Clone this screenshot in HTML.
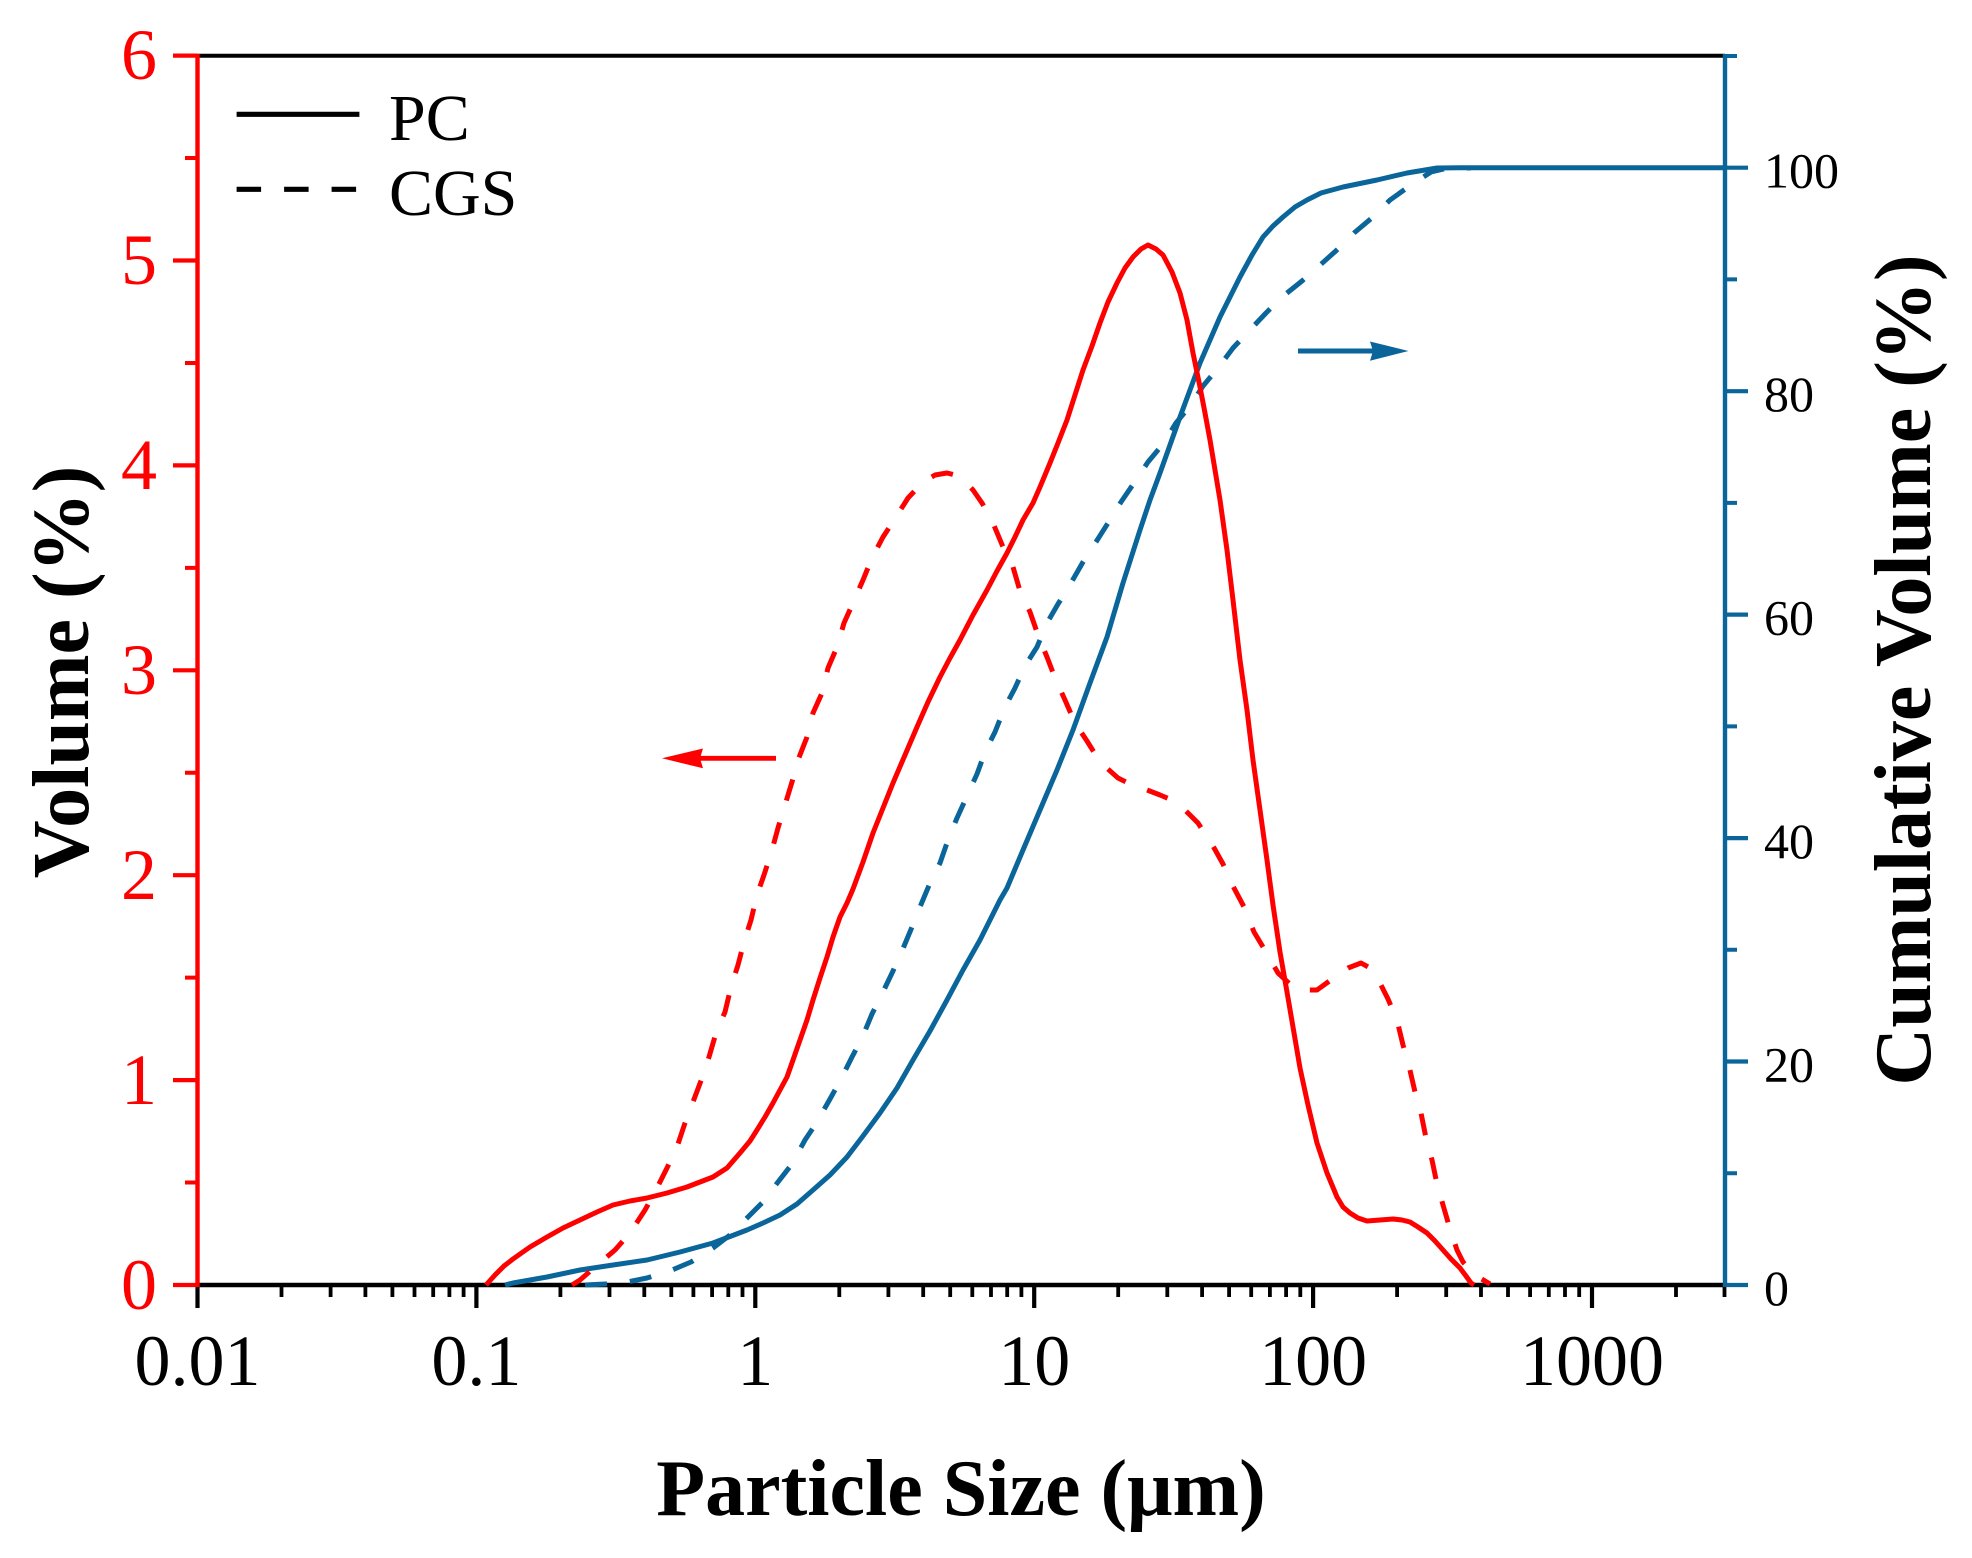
<!DOCTYPE html>
<html>
<head>
<meta charset="utf-8">
<style>
  html,body{margin:0;padding:0;background:#fff;}
  svg{display:block;}
  text{font-family:"Liberation Serif","Times New Roman",serif;}
</style>
</head>
<body>
<svg width="1972" height="1558" viewBox="0 0 1972 1558" xmlns="http://www.w3.org/2000/svg">
  <rect x="0" y="0" width="1972" height="1558" fill="#fff"/>

  <!-- Top axis -->
  <line x1="197.5" y1="55.7" x2="1725" y2="55.7" stroke="#000" stroke-width="4"/>
  <!-- Bottom axis -->
  <line x1="197.5" y1="1285" x2="1725" y2="1285" stroke="#000" stroke-width="4.6"/>

  <!-- Bottom major ticks -->
  <path d="M197.5 1285V1308 M476.4 1285V1308 M755.3 1285V1308 M1034.2 1285V1308 M1313.1 1285V1308 M1592 1285V1308" stroke="#000" stroke-width="4.2" fill="none"/>
  <!-- Bottom minor ticks -->
  <path d="M281.5 1285V1297 M330.6 1285V1297 M365.4 1285V1297 M392.4 1285V1297 M414.5 1285V1297 M433.2 1285V1297 M449.4 1285V1297 M463.6 1285V1297
           M560.4 1285V1297 M609.5 1285V1297 M644.3 1285V1297 M671.3 1285V1297 M693.4 1285V1297 M712.1 1285V1297 M728.3 1285V1297 M742.5 1285V1297
           M839.3 1285V1297 M888.4 1285V1297 M923.2 1285V1297 M950.2 1285V1297 M972.3 1285V1297 M991 1285V1297 M1007.2 1285V1297 M1021.4 1285V1297
           M1118.2 1285V1297 M1167.3 1285V1297 M1202.1 1285V1297 M1229.1 1285V1297 M1251.2 1285V1297 M1269.9 1285V1297 M1286.1 1285V1297 M1300.3 1285V1297
           M1397.1 1285V1297 M1446.2 1285V1297 M1481 1285V1297 M1508 1285V1297 M1530.1 1285V1297 M1548.8 1285V1297 M1565 1285V1297 M1579.2 1285V1297
           M1676 1285V1297 M1724.5 1285V1297" stroke="#000" stroke-width="3.8" fill="none"/>

  <!-- Left axis (red) -->
  <line x1="197.5" y1="54" x2="197.5" y2="1287" stroke="#ff0000" stroke-width="4.4"/>
  <path d="M173 1285H197.5 M173 1080.1H197.5 M173 875.2H197.5 M173 670.3H197.5 M173 465.4H197.5 M173 260.5H197.5 M173 55.6H197.5" stroke="#ff0000" stroke-width="4.2" fill="none"/>
  <path d="M185 1182.55H197.5 M185 977.65H197.5 M185 772.75H197.5 M185 567.85H197.5 M185 362.95H197.5 M185 158.05H197.5" stroke="#ff0000" stroke-width="4" fill="none"/>

  <!-- Right axis (blue) -->
  <line x1="1725" y1="54" x2="1725" y2="1287" stroke="#0a659a" stroke-width="4.4"/>
  <path d="M1725 1285H1748 M1725 1061.5H1748 M1725 838.1H1748 M1725 614.6H1748 M1725 391.2H1748 M1725 167.7H1748" stroke="#0a659a" stroke-width="4.2" fill="none"/>
  <path d="M1725 1173.3H1737 M1725 949.8H1737 M1725 726.4H1737 M1725 502.9H1737 M1725 279.4H1737 M1725 56H1737" stroke="#0a659a" stroke-width="4" fill="none"/>

  <!-- Left tick labels -->
  <g fill="#ff0000" font-size="72" text-anchor="end">
    <text x="157" y="1309">0</text>
    <text x="157" y="1104">1</text>
    <text x="157" y="899">2</text>
    <text x="157" y="694">3</text>
    <text x="157" y="489">4</text>
    <text x="157" y="284">5</text>
    <text x="157" y="79">6</text>
  </g>

  <!-- Bottom tick labels -->
  <g fill="#000" font-size="72" text-anchor="middle">
    <text x="197.5" y="1385">0.01</text>
    <text x="476.4" y="1385">0.1</text>
    <text x="755.3" y="1385">1</text>
    <text x="1034.2" y="1385">10</text>
    <text x="1313.1" y="1385">100</text>
    <text x="1592" y="1385">1000</text>
  </g>

  <!-- Right tick labels -->
  <g fill="#000" font-size="50" text-anchor="start">
    <text x="1764" y="1305">0</text>
    <text x="1764" y="1081.5">20</text>
    <text x="1764" y="858">40</text>
    <text x="1764" y="634.5">60</text>
    <text x="1764" y="411">80</text>
    <text x="1764" y="187.7">100</text>
  </g>

  <!-- Axis titles -->
  <text x="961" y="1515" font-size="80" font-weight="bold" text-anchor="middle" fill="#000">Particle Size (μm)</text>
  <text x="88" y="672" font-size="80" font-weight="bold" text-anchor="middle" fill="#000" transform="rotate(-90 88 672)">Volume (%)</text>
  <text x="1930" y="670" font-size="80" font-weight="bold" text-anchor="middle" fill="#000" transform="rotate(-90 1930 670)">Cumulative Volume (%)</text>

  <!-- Legend -->
  <line x1="236.6" y1="114.3" x2="359.4" y2="114.3" stroke="#000" stroke-width="5.2"/>
  <line x1="236.6" y1="189.3" x2="357.5" y2="189.3" stroke="#000" stroke-width="5.2" stroke-dasharray="24.5 23"/>
  <text x="389" y="140" font-size="66" fill="#000">PC</text>
  <text x="389" y="215" font-size="66" fill="#000">CGS</text>

  <!-- Curves -->
  <g fill="none" stroke-width="5" stroke-linejoin="round" stroke-linecap="butt">
    <!-- CGS cumulative (blue dashed) -->
    <polyline stroke="#0a659a" stroke-dasharray="22 23" points="585,1285 605,1284 627,1282 647,1278 672,1270 691,1262 713,1248 730,1235 747,1218 762,1203 778,1182 792,1164 805,1140 817,1122 830,1099 840,1081 852,1057 862,1038 872,1014 882,994 893,971 902,951 912,927 920,907 930,883 940,863 948,840 957,818 967,796 977,774 985,752 995,732 1005,707 1015,688 1025,666 1037,647 1047,623 1058,604 1071,583 1083,562 1096,542 1108,523 1121,502 1134,483 1148,462 1163,444 1176,423 1190,406 1203,386 1218,368 1233,348 1248,332 1266,313 1282,297 1302,281 1319,266 1338,249 1354,233 1373,217 1390,200 1411,185 1431,172 1448,168 1471,168"/>
    <!-- PC cumulative (blue solid) -->
    <polyline stroke="#0a659a" points="505,1285 513,1283 547,1277 580,1270 613,1265 647,1260 680,1252 713,1243 747,1230 763,1223 780,1215 797,1204 813,1190 830,1175 847,1157 863,1136 880,1113 897,1088 913,1060 930,1031 947,1000 963,970 980,940 990,920 1000,900 1007,888 1023,850 1040,810 1057,770 1073,730 1090,683 1107,637 1123,583 1140,530 1150,500 1160,473 1170,445 1180,417 1190,390 1200,363 1210,340 1220,317 1230,297 1240,277 1252,255 1263,237 1273,226 1283,217 1295,207 1307,200 1321,193 1343,187 1377,180 1407,173 1437,168 1460,167.7 1725,167.7"/>
    <!-- CGS volume (red dashed) -->
    <polyline stroke="#ff0000" stroke-dasharray="22 23" points="572,1285 580,1280 595,1267 615,1250 630,1233 645,1210 655,1192 667,1168 677,1147 685,1123 693,1102 702,1078 709,1057 716,1033 725,1012 731,987 738,965 744,942 751,920 757,895 764,875 772,850 778,828 785,805 792,782 798,760 807,737 813,713 822,693 828,668 837,647 844,623 853,603 863,580 872,558 883,537 896,517 908,498 923,482 935,475 947,473 955,475 964,480 973,490 982,503 993,523 1003,547 1013,567 1020,591 1030,612 1038,635 1047,657 1055,678 1065,700 1075,723 1087,741 1100,762 1118,778 1130,784 1142,788 1160,795 1172,800 1182,807 1198,823 1213,846 1223,864 1234,888 1244,907 1254,932 1266,952 1278,973 1294,988 1305,990 1317,990 1335,977 1348,968 1361,963 1370,968 1377,977 1388,999 1397,1020 1403,1045 1409,1066 1415,1092 1421,1113 1426,1138 1432,1160 1437,1184 1443,1205 1450,1229 1457,1250 1463,1262 1472,1272 1480,1278 1490,1284"/>
    <!-- PC volume (red solid) -->
    <polyline stroke="#ff0000" points="486,1285 495,1275 504,1266 513,1259 530,1247 547,1237 563,1228 580,1220 597,1212 613,1205 630,1201 647,1198 667,1193 687,1187 700,1182 713,1177 727,1168 740,1153 750,1141 757,1130 765,1117 773,1103 780,1090 787,1077 793,1060 800,1040 807,1020 813,1000 820,978 827,957 833,937 840,917 847,903 853,889 863,862 873,833 883,808 893,783 905,755 917,727 928,702 940,677 950,658 960,640 973,615 987,590 997,571 1007,553 1015,537 1023,520 1033,503 1040,487 1050,463 1058,443 1067,420 1075,395 1083,370 1092,346 1100,323 1108,302 1117,283 1125,268 1133,257 1141,249 1148,245 1156,249 1163,255 1172,272 1180,293 1187,320 1193,353 1200,387 1205,413 1210,440 1215,470 1220,500 1227,550 1233,600 1240,660 1247,710 1253,760 1260,810 1267,860 1273,905 1280,952 1287,992 1293,1027 1300,1068 1308,1105 1317,1143 1327,1173 1337,1197 1343,1207 1350,1213 1358,1218 1367,1221 1380,1220 1393,1219 1402,1220 1410,1222 1418,1227 1427,1233 1435,1241 1443,1250 1451,1259 1460,1268 1466,1276 1471,1283 1474,1285"/>
  </g>

  <!-- Arrows -->
  <line x1="700" y1="758.3" x2="776" y2="758.3" stroke="#ff0000" stroke-width="4.9"/>
  <polygon points="662,758.3 703,748.5 700,758.3 703,768.3" fill="#ff0000"/>
  <line x1="1298" y1="351" x2="1373" y2="351" stroke="#0a659a" stroke-width="4.9"/>
  <polygon points="1408.5,351 1370,341.5 1373,351 1370,360.7" fill="#0a659a"/>
</svg>
</body>
</html>
